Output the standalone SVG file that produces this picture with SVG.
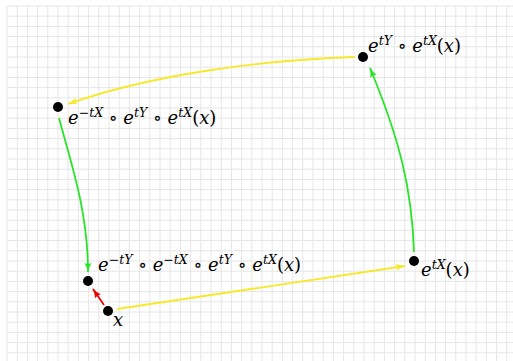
<svg xmlns="http://www.w3.org/2000/svg" width="513" height="361" viewBox="0 0 513 361">
<style>
.grid line{stroke:#e6e6e6;stroke-width:1}
.lbl{font-family:"DejaVu Serif","Liberation Serif",serif;font-style:italic;font-size:18px;fill:#000}
.sup{font-size:12.5px}
.up{font-style:normal}
.dot{fill:#000}
.e{fill:none;stroke-width:1.8}
</style>
<defs>
<marker id="ay" viewBox="0 0 10 8" refX="9" refY="4" markerWidth="10" markerHeight="8" markerUnits="userSpaceOnUse" orient="auto"><path d="M0,0.5 Q4,3 10,4 Q4,5 0,7.5 Q2,4 0,0.5z" fill="#f6e82a"/></marker>
<marker id="ag" viewBox="0 0 10 8" refX="9" refY="4" markerWidth="10" markerHeight="8" markerUnits="userSpaceOnUse" orient="auto"><path d="M0,0.5 Q4,3 10,4 Q4,5 0,7.5 Q2,4 0,0.5z" fill="#2ae42a"/></marker>
<marker id="ar" viewBox="0 0 10 8" refX="9" refY="4" markerWidth="10" markerHeight="8" markerUnits="userSpaceOnUse" orient="auto"><path d="M0,0.5 Q4,3 10,4 Q4,5 0,7.5 Q2,4 0,0.5z" fill="#ee0000"/></marker>
</defs>
<rect width="513" height="361" fill="#fff"/>
<g class="grid">
<line x1="7" y1="6" x2="7" y2="361"/><line x1="17.2" y1="6" x2="17.2" y2="361"/><line x1="27.4" y1="6" x2="27.4" y2="361"/><line x1="37.6" y1="6" x2="37.6" y2="361"/><line x1="47.8" y1="6" x2="47.8" y2="361"/><line x1="58" y1="6" x2="58" y2="361"/><line x1="68.2" y1="6" x2="68.2" y2="361"/><line x1="78.4" y1="6" x2="78.4" y2="361"/><line x1="88.6" y1="6" x2="88.6" y2="361"/><line x1="98.8" y1="6" x2="98.8" y2="361"/><line x1="109" y1="6" x2="109" y2="361"/><line x1="119.2" y1="6" x2="119.2" y2="361"/><line x1="129.4" y1="6" x2="129.4" y2="361"/><line x1="139.6" y1="6" x2="139.6" y2="361"/><line x1="149.8" y1="6" x2="149.8" y2="361"/><line x1="160" y1="6" x2="160" y2="361"/><line x1="170.2" y1="6" x2="170.2" y2="361"/><line x1="180.4" y1="6" x2="180.4" y2="361"/><line x1="190.6" y1="6" x2="190.6" y2="361"/><line x1="200.8" y1="6" x2="200.8" y2="361"/><line x1="211" y1="6" x2="211" y2="361"/><line x1="221.2" y1="6" x2="221.2" y2="361"/><line x1="231.4" y1="6" x2="231.4" y2="361"/><line x1="241.6" y1="6" x2="241.6" y2="361"/><line x1="251.8" y1="6" x2="251.8" y2="361"/><line x1="262" y1="6" x2="262" y2="361"/><line x1="272.2" y1="6" x2="272.2" y2="361"/><line x1="282.4" y1="6" x2="282.4" y2="361"/><line x1="292.6" y1="6" x2="292.6" y2="361"/><line x1="302.8" y1="6" x2="302.8" y2="361"/><line x1="313" y1="6" x2="313" y2="361"/><line x1="323.2" y1="6" x2="323.2" y2="361"/><line x1="333.4" y1="6" x2="333.4" y2="361"/><line x1="343.6" y1="6" x2="343.6" y2="361"/><line x1="353.8" y1="6" x2="353.8" y2="361"/><line x1="364" y1="6" x2="364" y2="361"/><line x1="374.2" y1="6" x2="374.2" y2="361"/><line x1="384.4" y1="6" x2="384.4" y2="361"/><line x1="394.6" y1="6" x2="394.6" y2="361"/><line x1="404.8" y1="6" x2="404.8" y2="361"/><line x1="415" y1="6" x2="415" y2="361"/><line x1="425.2" y1="6" x2="425.2" y2="361"/><line x1="435.4" y1="6" x2="435.4" y2="361"/><line x1="445.6" y1="6" x2="445.6" y2="361"/><line x1="455.8" y1="6" x2="455.8" y2="361"/><line x1="466" y1="6" x2="466" y2="361"/><line x1="476.2" y1="6" x2="476.2" y2="361"/><line x1="486.4" y1="6" x2="486.4" y2="361"/><line x1="496.6" y1="6" x2="496.6" y2="361"/><line x1="506.8" y1="6" x2="506.8" y2="361"/>
<line x1="7" y1="6" x2="513" y2="6"/><line x1="7" y1="16.2" x2="513" y2="16.2"/><line x1="7" y1="26.4" x2="513" y2="26.4"/><line x1="7" y1="36.6" x2="513" y2="36.6"/><line x1="7" y1="46.8" x2="513" y2="46.8"/><line x1="7" y1="57" x2="513" y2="57"/><line x1="7" y1="67.2" x2="513" y2="67.2"/><line x1="7" y1="77.4" x2="513" y2="77.4"/><line x1="7" y1="87.6" x2="513" y2="87.6"/><line x1="7" y1="97.8" x2="513" y2="97.8"/><line x1="7" y1="108" x2="513" y2="108"/><line x1="7" y1="118.2" x2="513" y2="118.2"/><line x1="7" y1="128.4" x2="513" y2="128.4"/><line x1="7" y1="138.6" x2="513" y2="138.6"/><line x1="7" y1="148.8" x2="513" y2="148.8"/><line x1="7" y1="159" x2="513" y2="159"/><line x1="7" y1="169.2" x2="513" y2="169.2"/><line x1="7" y1="179.4" x2="513" y2="179.4"/><line x1="7" y1="189.6" x2="513" y2="189.6"/><line x1="7" y1="199.8" x2="513" y2="199.8"/><line x1="7" y1="210" x2="513" y2="210"/><line x1="7" y1="220.2" x2="513" y2="220.2"/><line x1="7" y1="230.4" x2="513" y2="230.4"/><line x1="7" y1="240.6" x2="513" y2="240.6"/><line x1="7" y1="250.8" x2="513" y2="250.8"/><line x1="7" y1="261" x2="513" y2="261"/><line x1="7" y1="271.2" x2="513" y2="271.2"/><line x1="7" y1="281.4" x2="513" y2="281.4"/><line x1="7" y1="291.6" x2="513" y2="291.6"/><line x1="7" y1="301.8" x2="513" y2="301.8"/><line x1="7" y1="312" x2="513" y2="312"/><line x1="7" y1="322.2" x2="513" y2="322.2"/><line x1="7" y1="332.4" x2="513" y2="332.4"/><line x1="7" y1="342.6" x2="513" y2="342.6"/><line x1="7" y1="352.8" x2="513" y2="352.8"/>
</g>
<g id="connectors">
<path class="e" d="M117,309 L405,266" stroke="#f6e82a" marker-end="url(#ay)"/>
<path class="e" d="M414,252 C412,190 400,140 370,68" stroke="#2ae42a" marker-end="url(#ag)"/>
<path class="e" d="M355,57 C260,60 150,75 68,104" stroke="#f6e82a" marker-end="url(#ay)"/>
<path class="e" d="M59,118 C70,160 88,210 88,272" stroke="#2ae42a" marker-end="url(#ag)"/>
<path class="e" d="M104,305 L93,289" stroke="#ee0000" marker-end="url(#ar)"/>
</g>
<g id="n-x"><circle class="dot" cx="108" cy="311" r="5"/><text class="lbl" x="113" y="326">x</text></g>
<g id="n-A"><circle class="dot" cx="88" cy="281" r="5"/><text class="lbl" x="98" y="271">e<tspan class="sup" dy="-7"><tspan class="up">−</tspan>tY</tspan><tspan dy="7" class="up"> ∘ </tspan>e<tspan class="sup" dy="-7"><tspan class="up">−</tspan>tX</tspan><tspan dy="7" class="up"> ∘ </tspan>e<tspan class="sup" dy="-7">tY</tspan><tspan dy="7" class="up"> ∘ </tspan>e<tspan class="sup" dy="-7">tX</tspan><tspan dy="7"><tspan class="up">(</tspan>x<tspan class="up">)</tspan></tspan></text></g>
<g id="n-B"><circle class="dot" cx="58" cy="107" r="5"/><text class="lbl" x="68" y="124">e<tspan class="sup" dy="-7"><tspan class="up">−</tspan>tX</tspan><tspan dy="7" class="up"> ∘ </tspan>e<tspan class="sup" dy="-7">tY</tspan><tspan dy="7" class="up"> ∘ </tspan>e<tspan class="sup" dy="-7">tX</tspan><tspan dy="7"><tspan class="up">(</tspan>x<tspan class="up">)</tspan></tspan></text></g>
<g id="n-C"><circle class="dot" cx="363" cy="57" r="5"/><text class="lbl" x="368" y="52">e<tspan class="sup" dy="-7">tY</tspan><tspan dy="7" class="up"> ∘ </tspan>e<tspan class="sup" dy="-7">tX</tspan><tspan dy="7"><tspan class="up">(</tspan>x<tspan class="up">)</tspan></tspan></text></g>
<g id="n-D"><circle class="dot" cx="414" cy="261" r="5"/><text class="lbl" x="421" y="276">e<tspan class="sup" dy="-7">tX</tspan><tspan dy="7"><tspan class="up">(</tspan>x<tspan class="up">)</tspan></tspan></text></g>
</svg>
